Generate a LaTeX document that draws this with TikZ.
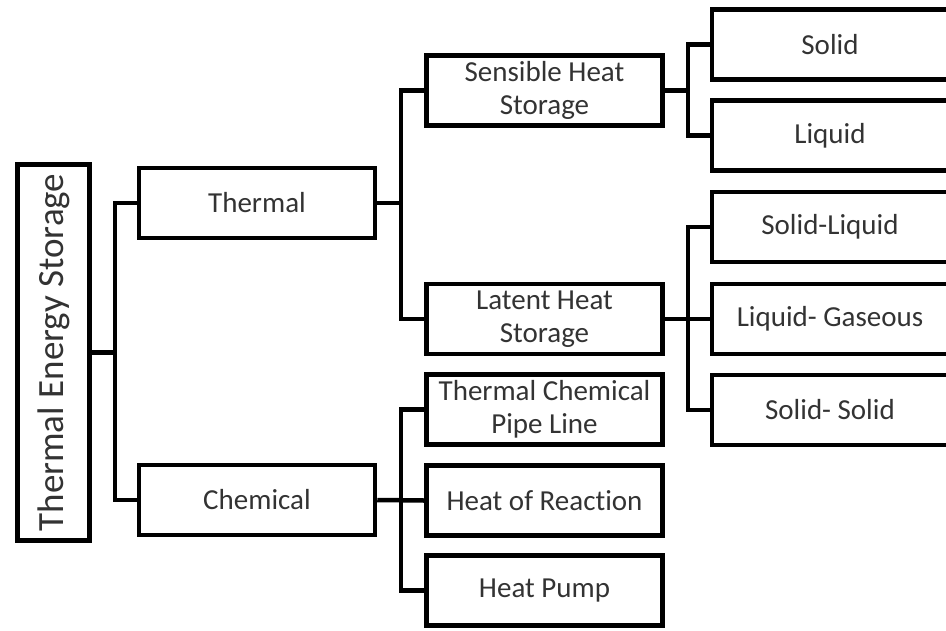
\documentclass[tikz,border=0pt]{standalone}
\usepackage{fontspec}
\setmainfont{Carlito}[Ligatures=NoCommon]

\begin{document}
\begin{tikzpicture}[x=1pt,y=-1pt,
  box/.style={draw,line width=4.5pt,line join=miter,minimum width=236pt,minimum height=70pt,
    inner sep=0pt,align=center,text=black!80,font=\fontsize{29}{33}\selectfont},
  link/.style={line width=4.5pt,line join=miter}]
  \useasboundingbox (0,0) rectangle (946,630);
  \clip (0,0) rectangle (946,630);
  % root, turned on its side (its south anchor faces right)
  \node[box,rotate=90,minimum width=376pt,minimum height=72pt,font=\fontsize{37}{40}\selectfont] (tes) at (53.5,352.5) {Thermal Energy Storage};
  \node[box] (thermal) at (257,203) {Thermal};
  \node[box] (chemical) at (257,500) {Chemical};
  \node[box] (sensible) at (544.5,90.5) {Sensible Heat\\Storage};
  \node[box] (latent) at (544.5,319) {Latent Heat\\Storage};
  \node[box] (pipe) at (544.5,409.5) {Thermal Chemical\\Pipe Line};
  \node[box] (reaction) at (544.5,500.5) {Heat of Reaction};
  \node[box] (pump) at (544.5,590.5) {Heat Pump};
  \node[box] (solid) at (830,44.5) {Solid};
  \node[box] (liquid) at (830,135.5) {Liquid};
  \node[box] (solliq) at (830,227) {Solid-Liquid};
  \node[box] (liqgas) at (830,319) {Liquid- Gaseous};
  \node[box] (solsol) at (830,410) {Solid- Solid};
  % branch points
  \coordinate (ja) at (115,352.5);
  \coordinate (jb) at (401,203);
  \coordinate (jc) at (401,500);
  \coordinate (jd) at (688,90.5);
  \coordinate (je) at (688,319);
  \draw[link] (tes.south) -- (ja);
  \draw[link] (thermal.west) -| (ja) |- (chemical.west);
  \draw[link] (thermal.east) -- (jb);
  \draw[link] (sensible.west) -| (jb) |- (latent.west);
  \draw[link] (chemical.east) -- (reaction.west);
  \draw[link] (pipe.west) -| (jc) |- (pump.west);
  \draw[link] (sensible.east) -- (jd);
  \draw[link] (solid.west) -| (jd) |- (liquid.west);
  \draw[link] (latent.east) -- (liqgas.west);
  \draw[link] (solliq.west) -| (je) |- (solsol.west);
\end{tikzpicture}
\end{document}
